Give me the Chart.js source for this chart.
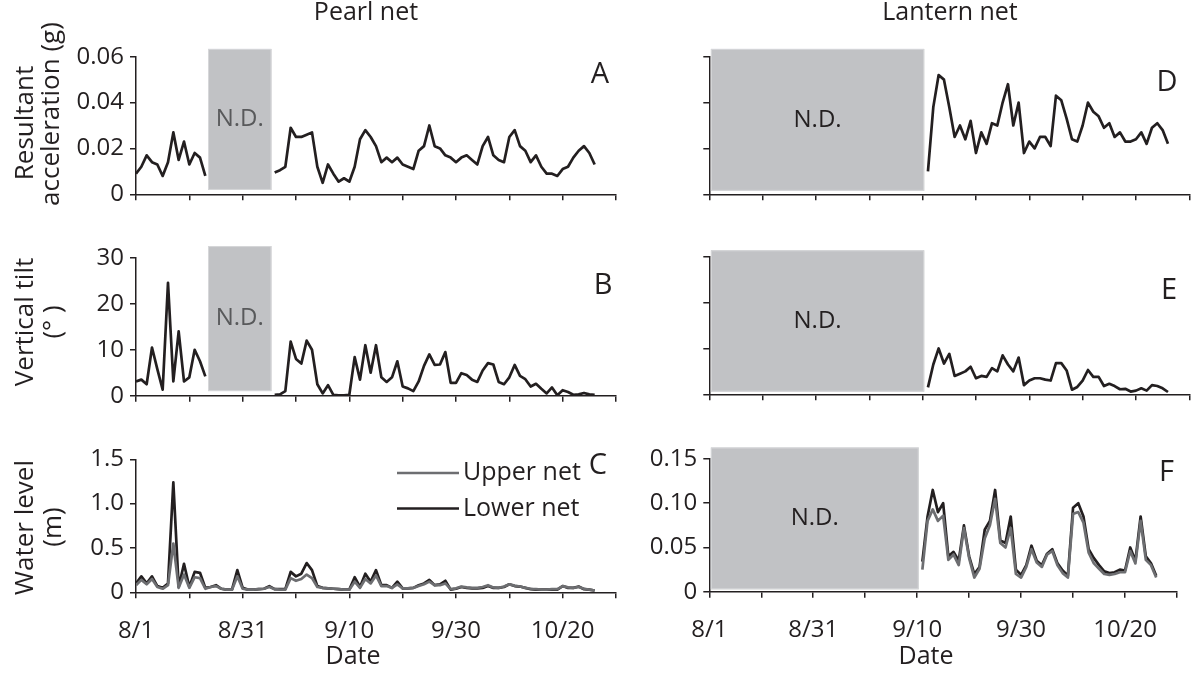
<!DOCTYPE html>
<html>
<head>
<meta charset="utf-8">
<script src="https://cdn.jsdelivr.net/npm/chart.js@4.4.1/dist/chart.umd.min.js"></script>
<style>
  body { margin: 0; background: #fff; width: 1195px; height: 673px; position: relative; overflow: hidden; }
  canvas { position: absolute; left: 0; top: 0; }
</style>
</head>
<body>
<canvas id="panelA" width="1195" height="673"></canvas>
<canvas id="panelB" width="1195" height="673"></canvas>
<canvas id="panelC" width="1195" height="673"></canvas>
<canvas id="panelD" width="1195" height="673"></canvas>
<canvas id="panelE" width="1195" height="673"></canvas>
<canvas id="panelF" width="1195" height="673"></canvas>
<script>
// days since 8/1
const days = [0,1,2,3,4,5,6,7,8,9,10,11,12,13,14,15,16,17,18,19,20,21,22,23,24,25,26,27,28,29,
  30,31,32,33,34,35,36,37,38,39,40,41,42,43,44,45,46,47,48,49,50,51,52,53,54,55,56,57,58,59,
  60,61,62,63,64,65,66,67,68,69,70,71,72,73,74,75,76,77,78,79,80,81,82,83,84,85,86];

const xTickValues = [0, 10, 20, 30, 40, 50, 60, 70, 80, 90];
const xTickLabels = ['8/1', '', '8/31', '', '9/10', '', '9/30', '', '10/20', ''];

const accTicks = [0, 0.02, 0.04, 0.06];
const accLabels = ['0', '0.02', '0.04', '0.06'];
const tiltTicks = [0, 10, 20, 30];
const tiltLabels = ['0', '10', '20', '30'];
const wlPearlTicks = [0, 0.5, 1.0, 1.5];
const wlPearlLabels = ['0', '0.5', '1.0', '1.5'];
const wlLanternTicks = [0, 0.05, 0.10, 0.15];
const wlLanternLabels = ['0', '0.05', '0.10', '0.15'];

const N = null;

// resultant acceleration (g)
const accPearl = [0.009,0.012,0.017,0.014,0.013,0.008,0.014,0.027,0.015,0.023,0.013,0.018,0.016,0.008,
  N,N,N,N,N,N,N,N,N,N,N,N,
  0.0095,0.0105,0.012,0.029,0.025,0.025,0.026,0.027,0.012,0.005,0.013,0.009,0.0055,0.007,0.0055,
  0.012,0.024,0.028,0.025,0.021,0.014,0.016,0.014,0.016,0.013,0.012,0.011,0.019,0.021,0.030,
  0.021,0.020,0.017,0.016,0.014,0.016,0.017,0.015,0.013,0.021,0.025,0.017,0.015,0.014,0.025,
  0.028,0.021,0.019,0.014,0.017,0.012,0.009,0.009,0.008,0.011,0.012,0.016,0.019,0.021,0.018,0.013];
const accLantern = [N,N,N,N,N,N,N,N,N,N,N,N,N,N,N,N,N,N,N,N,N,N,N,N,N,N,N,N,N,N,N,N,N,N,N,N,N,N,N,N,N,
  0.010,0.038,0.052,0.050,0.038,0.025,0.030,0.024,0.032,0.018,0.027,0.022,0.031,0.030,0.040,
  0.048,0.030,0.040,0.018,0.023,0.020,0.025,0.025,0.021,0.043,0.041,0.033,0.024,0.023,0.030,
  0.040,0.036,0.034,0.029,0.031,0.025,0.027,0.023,0.023,0.024,0.027,0.022,0.029,0.031,0.028,0.022];

// vertical tilt (deg)
const tiltPearl = [3.1,3.5,2.5,10.5,5.8,1.3,24.6,3.1,14.0,3.1,4.0,10.0,7.5,4.2,
  N,N,N,N,N,N,N,N,N,N,N,N,
  0.2,0.3,1.0,11.8,8.0,7.0,12.0,10.0,2.5,0.5,2.3,0.2,0.1,0.1,0.2,
  8.4,3.5,11.0,5.0,11.0,4.0,3.0,4.0,7.5,2.0,1.6,1.0,3.1,6.5,9.0,
  6.7,6.8,9.5,2.8,2.8,4.9,4.5,3.5,3.0,5.5,7.1,6.8,3.0,2.5,4.0,
  6.7,4.3,3.6,2.0,2.6,1.5,0.5,1.8,0.1,1.2,0.8,0.2,0.3,0.6,0.3,0.2];
const tiltLantern = [N,N,N,N,N,N,N,N,N,N,N,N,N,N,N,N,N,N,N,N,N,N,N,N,N,N,N,N,N,N,N,N,N,N,N,N,N,N,N,N,N,
  1.5,6.5,10.0,6.7,8.8,4.0,4.5,5.0,6.0,3.5,4.0,3.8,5.7,5.0,8.5,
  6.5,5.0,8.0,2.0,3.0,3.5,3.5,3.2,3.0,6.8,6.8,5.2,1.0,1.6,3.0,
  5.3,3.8,3.8,1.8,2.3,1.8,1.1,1.2,0.6,0.8,1.3,0.8,2.0,1.8,1.3,0.5];

// water level (m)
const wlPearlUpper = [0.08,0.14,0.09,0.15,0.06,0.04,0.08,0.55,0.05,0.20,0.05,0.17,0.16,0.04,0.06,
  0.07,0.04,0.03,0.03,0.18,0.04,0.03,0.03,0.035,0.04,0.06,0.035,0.03,0.03,0.16,
  0.13,0.15,0.20,0.16,0.06,0.05,0.045,0.04,0.035,0.03,0.03,0.12,0.05,0.15,0.10,
  0.19,0.07,0.07,0.05,0.09,0.045,0.045,0.05,0.07,0.09,0.12,0.08,0.08,0.10,0.035,
  0.045,0.065,0.055,0.05,0.05,0.06,0.08,0.055,0.05,0.065,0.09,0.075,0.065,0.05,0.04,
  0.035,0.03,0.03,0.035,0.035,0.07,0.055,0.05,0.06,0.04,0.03,0.02];
const wlPearlLower = [0.10,0.18,0.10,0.18,0.07,0.05,0.10,1.24,0.06,0.32,0.06,0.23,0.22,0.05,0.06,
  0.08,0.04,0.03,0.03,0.25,0.05,0.03,0.03,0.035,0.04,0.07,0.035,0.035,0.035,0.23,
  0.18,0.21,0.33,0.25,0.07,0.05,0.045,0.04,0.035,0.03,0.03,0.17,0.06,0.21,0.12,
  0.25,0.08,0.08,0.05,0.12,0.045,0.045,0.05,0.08,0.10,0.14,0.08,0.09,0.13,0.03,
  0.04,0.06,0.05,0.045,0.045,0.05,0.07,0.05,0.05,0.06,0.09,0.07,0.065,0.05,0.035,
  0.03,0.03,0.03,0.03,0.03,0.07,0.05,0.05,0.065,0.035,0.03,0.02];
const wlLanternUpper = [N,N,N,N,N,N,N,N,N,N,N,N,N,N,N,N,N,N,N,N,N,N,N,N,N,N,N,N,N,N,N,N,N,N,N,N,N,N,N,N,N,
  0.025,0.080,0.093,0.080,0.086,0.036,0.042,0.030,0.072,0.038,0.016,0.026,0.060,0.075,0.105,
  0.055,0.050,0.072,0.020,0.016,0.028,0.048,0.033,0.028,0.042,0.046,0.030,0.021,0.016,0.088,
  0.090,0.078,0.044,0.032,0.026,0.020,0.019,0.020,0.022,0.022,0.046,0.032,0.080,0.036,0.030,0.016];
const wlLanternLower = [N,N,N,N,N,N,N,N,N,N,N,N,N,N,N,N,N,N,N,N,N,N,N,N,N,N,N,N,N,N,N,N,N,N,N,N,N,N,N,N,N,
  0.034,0.085,0.115,0.090,0.100,0.040,0.045,0.035,0.075,0.040,0.020,0.028,0.070,0.080,0.115,
  0.058,0.055,0.085,0.025,0.019,0.030,0.052,0.035,0.030,0.043,0.048,0.032,0.024,0.018,0.095,
  0.100,0.085,0.048,0.038,0.030,0.023,0.021,0.022,0.025,0.024,0.050,0.035,0.085,0.040,0.032,0.018];

const ink = '#231f20';
const grey = '#6d6e71';
const ndFill = '#c1c2c5';
const family = "'Open Sans', sans-serif";

function drawText(ctx, t) {
  ctx.save();
  ctx.font = (t.size || 25) + 'px ' + family;
  ctx.fillStyle = t.color || ink;
  ctx.textAlign = t.align || 'center';
  ctx.textBaseline = t.rot ? 'alphabetic' : 'middle';
  ctx.translate(t.x, t.y);
  if (t.rot) ctx.rotate(-Math.PI / 2);
  ctx.fillText(t.text, 0, 0);
  ctx.restore();
}

function makePanel(id, p) {
  const datasets = p.series.map(s => ({
    label: s.label,
    data: days.map((d, i) => ({ x: d, y: s.values[i] })),
    borderColor: s.color,
    borderWidth: 2.7,
    borderJoinStyle: 'round',
    pointRadius: 0,
    tension: 0,
    spanGaps: false,
    fill: false
  }));

  const decor = {
    id: 'decor',
    beforeDatasetsDraw(chart) {
      if (!p.nd) return;
      const { ctx, scales: { x, y } } = chart;
      const x0 = x.getPixelForValue(p.nd.x0), x1 = x.getPixelForValue(p.nd.x1);
      const y0 = y.getPixelForValue(p.nd.y0), y1 = y.getPixelForValue(p.nd.y1);
      ctx.save();
      ctx.fillStyle = ndFill;
      ctx.fillRect(x0, y1, x1 - x0, y0 - y1);
      ctx.strokeStyle = '#d6d7d9';
      ctx.lineWidth = 1;
      ctx.strokeRect(x0 + 0.5, y1 + 0.5, x1 - x0 - 1, y0 - y1 - 1);
      ctx.restore();
      drawText(ctx, { text: 'N.D.', x: (x0 + x1) / 2, y: (y0 + y1) / 2, size: 24, color: p.nd.color });
    },
    afterDraw(chart) {
      const ctx = chart.ctx;
      (p.texts || []).forEach(t => drawText(ctx, t));
      if (p.legend) {
        chart.data.datasets.forEach((ds, i) => {
          const ly = p.legend.y[i];
          ctx.save();
          ctx.strokeStyle = ds.borderColor;
          ctx.lineWidth = 2.7;
          ctx.beginPath();
          ctx.moveTo(p.legend.x0, ly);
          ctx.lineTo(p.legend.x1, ly);
          ctx.stroke();
          ctx.restore();
          drawText(ctx, { text: ds.label, x: p.legend.x1 + 4, y: ly, align: 'left', size: 25 });
        });
      }
    }
  };

  new Chart(document.getElementById(id), {
    type: 'line',
    data: { datasets },
    options: {
      responsive: false,
      animation: false,
      events: [],
      layout: { padding: { left: p.padLeft, top: p.top, right: 1195 - p.right, bottom: 673 - p.bottom - p.xH } },
      plugins: { legend: { display: false }, tooltip: { enabled: false } },
      scales: {
        x: {
          type: 'linear', min: 0, max: 90,
          afterBuildTicks: s => { s.ticks = xTickValues.map(v => ({ value: v })); },
          afterFit: s => { s.height = p.xH; },
          ticks: {
            display: p.xLabels, autoSkip: false, maxRotation: 0, padding: 18,
            color: ink, font: { family, size: 24 },
            callback: (v, i) => xTickLabels[i]
          },
          grid: { drawOnChartArea: false, drawTicks: true, tickLength: 6, color: ink, lineWidth: 1.5 },
          border: { display: true, color: ink, width: 1.5 }
        },
        y: {
          type: 'linear', min: p.yTicks[0], max: p.yTicks[p.yTicks.length - 1],
          afterBuildTicks: s => { s.ticks = p.yTicks.map(v => ({ value: v })); },
          afterFit: s => { s.width = p.left - p.padLeft; },
          ticks: {
            display: !!p.yLabels, padding: 6,
            color: ink, font: { family, size: 24 },
            callback: (v, i) => (p.yLabels ? p.yLabels[i] : '')
          },
          grid: { drawOnChartArea: false, drawTicks: true, tickLength: 6, color: ink, lineWidth: 1.5 },
          border: { display: true, color: ink, width: 1.5 }
        }
      }
    },
    plugins: [decor]
  });
}

const leftCol = { padLeft: 0, left: 136, right: 616 };
const rightCol = { padLeft: 600, left: 709.3, right: 1189.3 };

makePanel('panelA', Object.assign({}, leftCol, {
  top: 56.7, bottom: 194.3, xH: 10, xLabels: false,
  yTicks: accTicks, yLabels: accLabels,
  series: [{ label: 'Pearl net', values: accPearl, color: ink }],
  nd: { x0: 13.5, x1: 25.4, y0: 0.0019, y1: 0.0634, color: '#58595b' },
  texts: [
    { text: 'Pearl net', x: 366, y: 13 },
    { text: 'A', x: 600, y: 75, size: 29 },
    { text: 'Resultant', x: 33, y: 123, rot: true, size: 26 },
    { text: 'acceleration (g)', x: 59, y: 114, rot: true, size: 26 }
  ]
}));

makePanel('panelB', Object.assign({}, leftCol, {
  top: 258, bottom: 395.7, xH: 10, xLabels: false,
  yTicks: tiltTicks, yLabels: tiltLabels,
  series: [{ label: 'Pearl net', values: tiltPearl, color: ink }],
  nd: { x0: 13.5, x1: 25.4, y0: 1.0, y1: 32.6, color: '#58595b' },
  texts: [
    { text: 'B', x: 603, y: 286, size: 29 },
    { text: 'Vertical tilt', x: 33, y: 322, rot: true, size: 26 },
    { text: '(° )', x: 61, y: 322, rot: true, size: 26 }
  ]
}));

makePanel('panelC', Object.assign({}, leftCol, {
  top: 459.3, bottom: 592.3, xH: 60, xLabels: true,
  yTicks: wlPearlTicks, yLabels: wlPearlLabels,
  series: [
    { label: 'Upper net', values: wlPearlUpper, color: grey },
    { label: 'Lower net', values: wlPearlLower, color: ink }
  ],
  legend: { x0: 397, x1: 459, y: [473, 508.5] },
  texts: [
    { text: 'C', x: 598, y: 466, size: 29 },
    { text: 'Water level', x: 33, y: 527.5, rot: true, size: 26 },
    { text: '(m)', x: 61, y: 527, rot: true, size: 26 },
    { text: 'Date', x: 353, y: 657 }
  ]
}));

makePanel('panelD', Object.assign({}, rightCol, {
  top: 56.7, bottom: 194.3, xH: 10, xLabels: false,
  yTicks: accTicks, yLabels: null,
  series: [{ label: 'Lantern net', values: accLantern, color: ink }],
  nd: { x0: 0.3, x1: 40.3, y0: 0.0015, y1: 0.0634, color: ink },
  texts: [
    { text: 'Lantern net', x: 950, y: 13 },
    { text: 'D', x: 1167, y: 83, size: 29 }
  ]
}));

makePanel('panelE', Object.assign({}, rightCol, {
  top: 256.7, bottom: 394.3, xH: 10, xLabels: false,
  yTicks: tiltTicks, yLabels: null,
  series: [{ label: 'Lantern net', values: tiltLantern, color: ink }],
  nd: { x0: 0.3, x1: 40.3, y0: 0.57, y1: 31.4, color: ink },
  texts: [
    { text: 'E', x: 1169, y: 291, size: 29 }
  ]
}));

makePanel('panelF', Object.assign({}, rightCol, {
  top: 459, bottom: 591.7, xH: 60, xLabels: true,
  yTicks: wlLanternTicks, yLabels: wlLanternLabels,
  series: [
    { label: 'Upper net', values: wlLanternUpper, color: grey },
    { label: 'Lower net', values: wlLanternLower, color: ink }
  ],
  nd: { x0: 0.3, x1: 40.3, y0: 0.0027, y1: 0.163, color: ink },
  texts: [
    { text: 'F', x: 1166.5, y: 472.5, size: 29 },
    { text: 'Date', x: 926, y: 657 }
  ]
}));
</script>
</body>
</html>
